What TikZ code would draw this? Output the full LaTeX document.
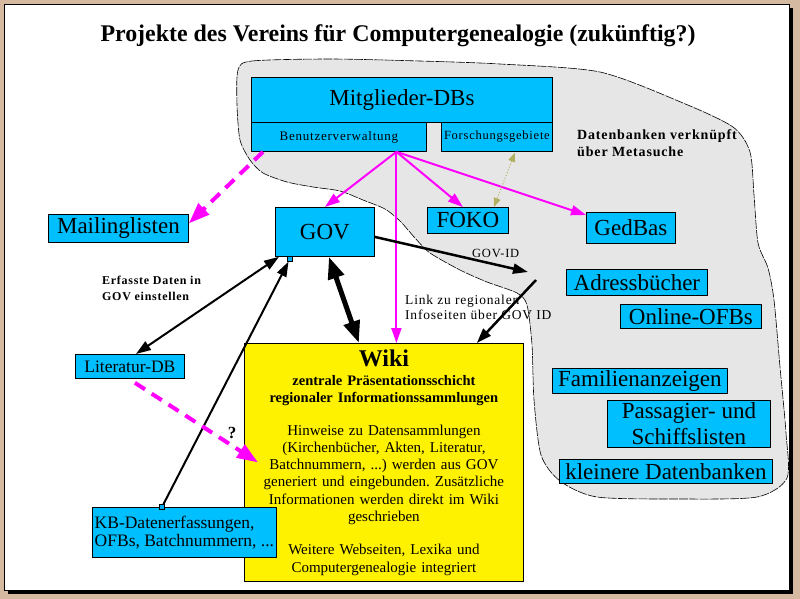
\documentclass[tikz,border=0pt]{standalone}
\usepackage{fontspec}
\setmainfont{Liberation Serif}
\newfontfamily\spaced[LetterSpace=6]{Liberation Serif}
\usetikzlibrary{arrows.meta}
\definecolor{dbcyan}{RGB}{0,191,255}
\definecolor{linkmagenta}{RGB}{255,0,255}
\definecolor{slidetan}{RGB}{213,185,160}
\definecolor{blobgray}{RGB}{230,230,230}
\definecolor{metaolive}{RGB}{176,176,96}
\newcommand{\dbfont}{\fontsize{23}{25}\selectfont}
\newcommand{\smallfont}{\fontsize{17.5}{18}\selectfont}
\frenchspacing

\begin{document}
\begin{tikzpicture}[x=1pt,y=-1pt,
  db/.style={draw, fill=dbcyan, line width=0.8pt, inner sep=0pt, anchor=north west, font=\dbfont},
  port/.style={draw, fill=cyan, line width=0.6pt, minimum size=5pt, inner sep=0pt},
  note/.style={inner sep=0pt, align=left},
  link/.style={linkmagenta, line width=2pt, -{Triangle[length=15pt,width=10pt]}},
  dashlink/.style={linkmagenta, line width=4pt, dash pattern=on 12pt off 8pt, -{Triangle[length=21pt,width=15pt]}},
  govlink/.style={line width=2.5pt, -{Triangle[length=15pt,width=10pt]}},
  both/.style={line width=2pt, {Triangle[length=15pt,width=10pt]}-{Triangle[length=15pt,width=10pt]}}]
\useasboundingbox (0,0) rectangle (800,599);
\fill[slidetan] (0,0) rectangle (800,599);
\fill[black] (8,8) rectangle (792.5,593.5);
\filldraw[fill=white, draw=black, line width=0.8pt] (4.5,4.5) rectangle (789,590.5);

% gray region of linked databases
\filldraw[fill=blobgray, draw=black, line width=0.6pt, dash pattern=on 9pt off 1.2pt]
  plot[smooth cycle, tension=0.45] coordinates {(238,70) (252,61) (330,59) (420,61) (500,64)
  (600,72) (683,103) (733,127) (750,152) (754,195) (758,243) (768,268) (774,300) (780,367)
  (786,433) (787,478) (757,497) (680,499) (597,497) (560,481) (541,455) (534,400) (532,345)
  (527,305) (517,293) (487,282) (460,270) (430,253) (415,238) (400,221) (385,209) (363,200)
  (340,191) (313,187) (287,182) (263,173) (250,160) (240,140) (237,105)};

\node[anchor=base, font=\fontsize{23.9}{26}\selectfont\bfseries] (title) at (398,42)
  {Projekte des Vereins für Computergenealogie (zukünftig?)};

\node[db, minimum width=301pt, minimum height=45pt] (mitglieder) at (251,77) {Mitglieder-DBs};
\node[db, minimum width=175pt, minimum height=29pt, font=\fontsize{13}{15}\spaced] (benutzer) at (251,122) {Benutzerverwaltung};
\node[db, minimum width=111pt, minimum height=29pt, font=\fontsize{12.5}{15}\spaced] (forschung) at (441,122) {Forschungsgebiete};
\node[db, minimum width=140pt, minimum height=28pt] (mailing) at (48,214) {Mailinglisten};
\node[db, minimum width=99pt, minimum height=49pt] (gov) at (275,207) {GOV};
\node[db, minimum width=81pt, minimum height=26pt] (foko) at (427,207) {FOKO};
\node[db, minimum width=89pt, minimum height=31pt] (gedbas) at (586,212) {GedBas};
\node[db, minimum width=141pt, minimum height=26pt] (adress) at (566,269) {Adressbücher};
\node[db, minimum width=141pt, minimum height=24pt] (online) at (620,304) {Online-OFBs};
\node[db, minimum width=175pt, minimum height=25pt] (familien) at (552,368) {Familienanzeigen};
\node[db, minimum width=163pt, minimum height=47pt, align=center, font=\fontsize{23}{26}\selectfont] (passagier) at (607,400) {Passagier- und\\Schiffslisten};
\node[db, minimum width=213pt, minimum height=24pt] (kleinere) at (559,459) {kleinere Datenbanken};
\node[db, minimum width=109pt, minimum height=24pt, font=\smallfont] (literatur) at (75,354) {Literatur-DB};
\node[db, fill=yellow, minimum width=279pt, minimum height=238pt, text width=279pt, align=center,
  font=\fontsize{15}{17.2}\selectfont] (wiki) at (244,343)
  {{\fontsize{24}{26}\selectfont\bfseries Wiki}\\[1.8pt]
   {\fontsize{14.5}{17.2}\selectfont\bfseries zentrale Präsentationsschicht}\\
   {\fontsize{14.5}{17.2}\selectfont\bfseries regionaler Informationssammlungen}\\[15.8pt]
   Hinweise zu Datensammlungen\\
   (Kirchenbücher, Akten, Literatur,\\
   Batchnummern, ...) werden aus GOV\\
   generiert und eingebunden. Zusätzliche\\
   Informationen werden direkt im Wiki\\
   geschrieben\\[16.5pt]
   Weitere Webseiten, Lexika und\\
   Computergenealogie integriert};
\node[db, minimum width=184pt, minimum height=50pt, align=left, font=\smallfont] (kb) at (92,507)
  {KB-Datenerfassungen,\\OFBs, Batchnummern, ...};

% labels
\node[note, anchor=west, font=\fontsize{14}{17}\spaced\bfseries] (metanote) at (577,143)
  {Datenbanken verknüpft\\über Metasuche};
\node[note, anchor=west, font=\fontsize{12}{16}\spaced\bfseries] (erfasst) at (102,288)
  {Erfasste Daten in\\GOV einstellen};
\node[note, anchor=base west, font=\fontsize{12.5}{15}\spaced] (govidnote) at (472,257) {GOV-ID};
\node[note, anchor=west, font=\fontsize{13.5}{15}\spaced] (linknote) at (405,307)
  {Link zu regionalen\\Infoseiten über GOV ID};
\node[font=\fontsize{17}{18}\selectfont\bfseries] (frage) at (232,433) {?};

% connection points
\coordinate (hub) at ([xshift=57.5pt]benutzer.south);
\coordinate (govid) at (528,272);
\coordinate (linkstart) at (536,280);
\node[port] (kbport) at ([xshift=70pt]kb.north west) {};
\node[port] (govport) at ([xshift=15pt,yshift=-2pt]gov.south west) {};

% member databases
\draw[link] (hub) -- (gov.north);
\draw[link] (hub) -- ([xshift=-5pt]foko.north);
\draw[link] (hub) -- ([yshift=-3pt]gedbas.north west);
\draw[link] (hub) -- (hub |- wiki.north);
\draw[dashlink] ([xshift=12pt]benutzer.south west) -- ([yshift=5pt]mailing.east);
\draw[metaolive, line width=1pt, dotted, {Triangle[length=9pt,width=7pt]}-{Triangle[length=9pt,width=7pt]}]
  ([xshift=18pt,yshift=-1pt]forschung.south) -- ([xshift=26pt]foko.north);

% GOV
\draw[govlink] ([yshift=-5pt]gov.east) -- (govid);
\draw[govlink] (linkstart) -- ([xshift=-47pt]wiki.north east);
\draw[line width=5pt, {Triangle[length=22pt,width=16pt]}-{Triangle[length=22pt,width=16pt]}]
  ([xshift=4pt]gov.south) -- ([xshift=-25pt]wiki.north);
\draw[both] ([xshift=6pt]literatur.north) -- ([xshift=4pt]gov.south west);
\draw[govlink, line width=2pt] (kbport) -- (govport);
\draw[dashlink] ([xshift=5pt,yshift=-4pt]literatur.south) -- ([xshift=14pt]wiki.west);
\end{tikzpicture}
\end{document}
